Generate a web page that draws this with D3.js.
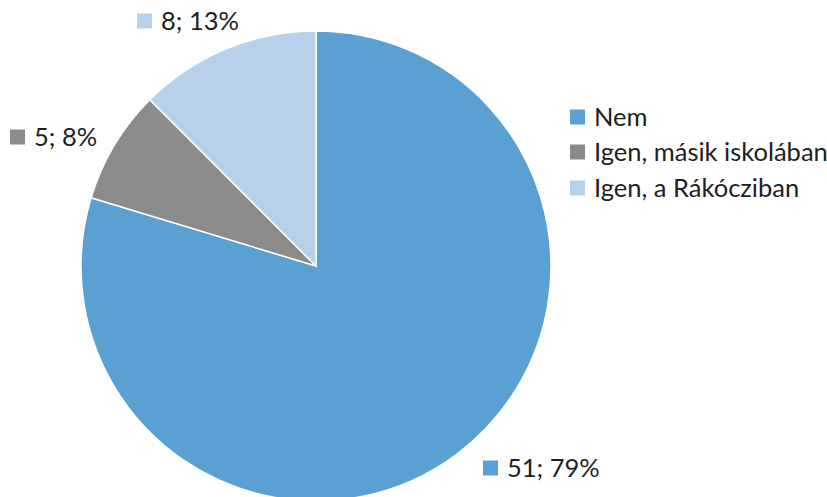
<!DOCTYPE html>
<html><head><meta charset="utf-8">
<script src="https://cdn.jsdelivr.net/npm/d3@7"></script>
<style>body{margin:0;background:#fff}svg{display:block}text{font-family:Lato,"Open Sans",sans-serif;fill:#1e1e1e}</style>
</head><body><svg id="c" width="827" height="497"></svg>
<script>
const categories = ["Nem", "Igen, másik iskolában", "Igen, a Rákócziban"];
const values = [51, 5, 8];
const dataLabels = ["51; 79%", "5; 8%", "8; 13%"];
const colors = ["#5aa0d3", "#8b8b8b", "#b7d1eb"];

const svg = d3.select("#c");
const cx = 316, cy = 266, r = 235;
const pie = d3.pie().sort(null).value(d => d)(values);
const arc = d3.arc().innerRadius(0).outerRadius(r);
const g = svg.append("g").attr("transform", `translate(${cx},${cy})`);
g.selectAll("path").data(pie).join("path")
  .attr("d", arc).attr("fill", (d,i) => colors[i])
  .attr("stroke", "#fff").attr("stroke-width", 1.5);

const sq = 15, fs = 25.5;
// data labels
const labelPos = [[483, 468], [10, 137], [137, 21]];
dataLabels.forEach((t, i) => {
  const [x, y] = labelPos[i];
  svg.append("rect").attr("x", x).attr("y", y - sq/2).attr("width", sq).attr("height", sq).attr("fill", colors[i]);
  svg.append("text").attr("x", x + 24).attr("y", y).attr("dy", "0.35em")
    .style("font-size", fs + "px").text(t);
});

// legend
const legY = [117, 152, 188];
const leg = svg.append("g").attr("transform", "translate(570,0)");
categories.forEach((c, i) => {
  const row = leg.append("g").attr("transform", `translate(0,${legY[i]})`);
  row.append("rect").attr("x", 0).attr("y", -sq/2).attr("width", sq).attr("height", sq).attr("fill", colors[i]);
  row.append("text").attr("x", 24).attr("y", 0).attr("dy", "0.35em").style("font-size", fs + "px").text(c);
});
</script></body></html>
